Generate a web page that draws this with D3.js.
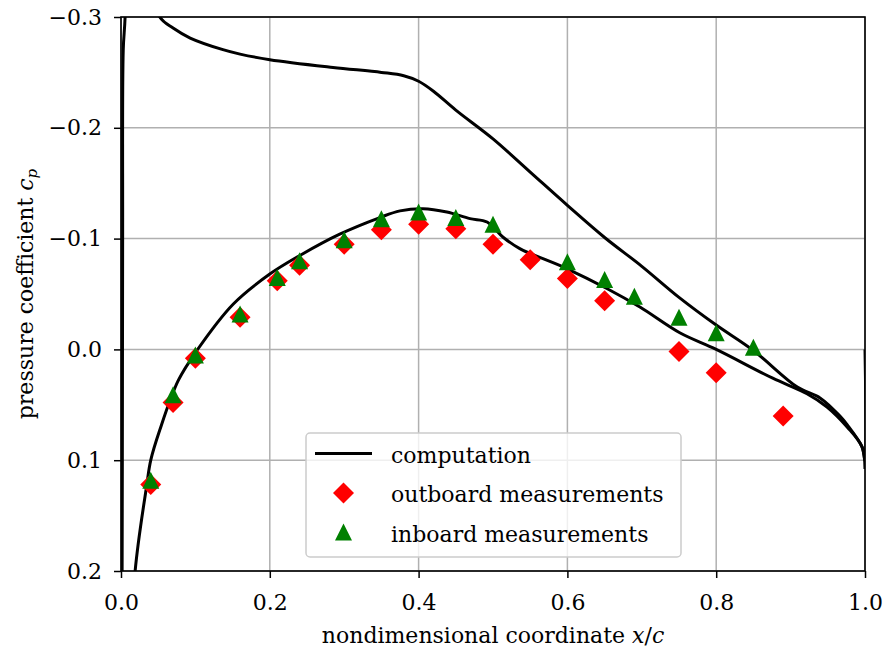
<!DOCTYPE html>
<html>
<head>
<meta charset="utf-8">
<script src="https://cdn.jsdelivr.net/npm/d3@7"></script>
<style>
  body { margin: 0; background: #fff; }
  text { font-family: "DejaVu Serif", serif; fill: #000; }
</style>
</head>
<body>
<svg id="chart" width="884" height="650"></svg>
<script>
// computed cp, upper surface (trailing edge -> leading edge)
const upperX = [1.0, 1.0, 0.996, 0.976, 0.966, 0.94, 0.909, 0.85, 0.8, 0.75, 0.7, 0.65, 0.6, 0.55,
  0.5, 0.45, 0.42, 0.40, 0.38, 0.35, 0.285, 0.2, 0.16, 0.137, 0.093, 0.07, 0.052, 0.03, 0.015, 0.009,
  0.0055, 0.003, 0.0022, 0.0018, 0.0012, 0.0];
const upperCp = [0.0, 0.1, 0.088, 0.068, 0.060, 0.044, 0.034, 0.001, -0.022, -0.047, -0.075, -0.101, -0.130, -0.160,
  -0.190, -0.216, -0.233, -0.242, -0.247, -0.250, -0.2545, -0.2615, -0.2665, -0.2705, -0.281, -0.290, -0.300, -0.35, -0.45, -0.45,
  -0.30, -0.27, -0.10, 0.10, 0.30, 1.0];

// computed cp, lower surface (leading edge -> trailing edge)
const lowerX = [0.0, 0.005, 0.01, 0.019, 0.0345, 0.04, 0.052, 0.077, 0.102, 0.151, 0.2, 0.241, 0.294, 0.348,
  0.375, 0.406, 0.438, 0.469, 0.492, 0.514, 0.536, 0.599, 0.653, 0.698, 0.751, 0.8, 0.876, 0.922, 0.949,
  0.976, 0.996, 1.0];
const lowerCp = [1.0, 0.45, 0.32, 0.2, 0.123, 0.1, 0.073, 0.028, 0.001, -0.041, -0.068, -0.085, -0.104, -0.119,
  -0.125, -0.127, -0.124, -0.118, -0.115, -0.101, -0.091, -0.073, -0.055, -0.038, -0.015, 0.0, 0.026, 0.040, 0.052,
  0.070, 0.088, 0.108];

// measurements
const outboardX = [0.04, 0.07, 0.10, 0.16, 0.21, 0.24, 0.30, 0.35, 0.40, 0.45, 0.50, 0.55, 0.60, 0.65, 0.75, 0.80, 0.89];
const outboardCp = [0.122, 0.048, 0.008, -0.029, -0.062, -0.076, -0.095, -0.108, -0.113, -0.109, -0.095, -0.081, -0.064, -0.044, 0.002, 0.021, 0.060];
const inboardX = [0.04, 0.07, 0.10, 0.16, 0.21, 0.24, 0.30, 0.35, 0.40, 0.45, 0.50, 0.60, 0.65, 0.69, 0.75, 0.80, 0.85];
const inboardCp = [0.118, 0.041, 0.005, -0.032, -0.065, -0.080, -0.099, -0.118, -0.124, -0.119, -0.113, -0.079, -0.063, -0.048, -0.029, -0.015, -0.002];

const xTickValues = [0, 0.2, 0.4, 0.6, 0.8, 1.0];
const yTickValues = [-0.3, -0.2, -0.1, 0.0, 0.1, 0.2];
const legendLabels = ["computation", "outboard measurements", "inboard measurements"];

const svg = d3.select("#chart");
const margin = { left: 121, right: 19, top: 17, bottom: 79 };
const W = 884, H = 650;

var x = d3.scaleLinear().domain([0, 1]).range([margin.left, W - margin.right]);
// cp axis is inverted: negative values on top
var y = d3.scaleLinear().domain([-0.3, 0.2]).range([margin.top, H - margin.bottom]);

var fmt = d3.format(".1f");

svg.append("defs").append("clipPath").attr("id", "plotClip")
  .append("rect")
  .attr("x", x(0)).attr("y", y(-0.3))
  .attr("width", x(1) - x(0)).attr("height", y(0.2) - y(-0.3));

// grid
var grid = svg.append("g").attr("stroke", "#b0b0b0").attr("stroke-width", 1.5);
grid.selectAll("line.gx").data(xTickValues).join("line")
  .attr("x1", d => x(d)).attr("x2", d => x(d))
  .attr("y1", y(-0.3)).attr("y2", y(0.2));
grid.selectAll("line.gy").data(yTickValues).join("line")
  .attr("y1", d => y(d)).attr("y2", d => y(d))
  .attr("x1", x(0)).attr("x2", x(1));

// computation curves
var line = d3.line().x(d => x(d[0])).y(d => y(d[1])).curve(d3.curveCatmullRom.alpha(0.5));
var curves = svg.append("g").attr("clip-path", "url(#plotClip)");
[[upperX, upperCp], [lowerX, lowerCp]].forEach(([xs, cps]) => {
  curves.append("path")
    .datum(xs.map((v, i) => [v, cps[i]]))
    .attr("fill", "none")
    .attr("stroke", "#000")
    .attr("stroke-width", 3)
    .attr("stroke-linejoin", "round")
    .attr("d", line);
});

// markers
var diamond = r => `M0,${-r}L${r},0L0,${r}L${-r},0Z`;
var triangle = r => `M0,${-r}L${r},${r}L${-r},${r}Z`;

svg.append("g").selectAll("path")
  .data(outboardX.map((v, i) => [v, outboardCp[i]]))
  .join("path")
  .attr("transform", d => `translate(${x(d[0])},${y(d[1])})`)
  .attr("d", diamond(10.5))
  .attr("fill", "#ff0000");

svg.append("g").selectAll("path")
  .data(inboardX.map((v, i) => [v, inboardCp[i]]))
  .join("path")
  .attr("transform", d => `translate(${x(d[0])},${y(d[1])})`)
  .attr("d", triangle(8.5))
  .attr("fill", "#008000");

// axes
var xAxis = svg.append("g")
  .attr("transform", `translate(0,${y(0.2)})`)
  .call(d3.axisBottom(x).tickValues(xTickValues).tickFormat(fmt).tickSize(7).tickPadding(16));
var yAxis = svg.append("g")
  .attr("transform", `translate(${x(0)},0)`)
  .call(d3.axisLeft(y).tickValues(yTickValues).tickFormat(fmt).tickSize(7).tickPadding(12));
[xAxis, yAxis].forEach(g => {
  g.select(".domain").remove();
  g.selectAll(".tick line").attr("stroke", "#000").attr("stroke-width", 1.5);
  g.selectAll(".tick text").attr("font-size", 22);
});

// frame
svg.append("rect")
  .attr("x", x(0)).attr("y", y(-0.3))
  .attr("width", x(1) - x(0)).attr("height", y(0.2) - y(-0.3))
  .attr("fill", "none").attr("stroke", "#000").attr("stroke-width", 1.6);

// axis labels
var xl = svg.append("text")
  .attr("x", (x(0) + x(1)) / 2).attr("y", 643)
  .attr("text-anchor", "middle").attr("font-size", 22);
xl.append("tspan").text("nondimensional coordinate ");
xl.append("tspan").attr("font-style", "italic").text("x");
xl.append("tspan").text("/");
xl.append("tspan").attr("font-style", "italic").text("c");

var yl = svg.append("text")
  .attr("transform", `translate(33,${(y(-0.3) + y(0.2)) / 2}) rotate(-90)`)
  .attr("text-anchor", "middle").attr("font-size", 22);
yl.append("tspan").text("pressure coefficient ");
yl.append("tspan").attr("font-style", "italic").text("c");
yl.append("tspan").attr("font-style", "italic").attr("font-size", 15).attr("dy", 4).text("p");

// legend
var legend = svg.append("g");
legend.append("rect")
  .attr("x", 306).attr("y", 433).attr("width", 375).attr("height", 124)
  .attr("rx", 4).attr("fill", "#fff").attr("fill-opacity", 0.8)
  .attr("stroke", "#cccccc").attr("stroke-width", 1.5);
var rowY = [453.5, 493, 532];
var textY = [463, 502, 541.5];
legend.append("line")
  .attr("x1", 315).attr("x2", 372).attr("y1", rowY[0]).attr("y2", rowY[0])
  .attr("stroke", "#000").attr("stroke-width", 3);
legend.append("path").attr("transform", `translate(343.5,${rowY[1]})`)
  .attr("d", diamond(10.5)).attr("fill", "#ff0000");
legend.append("path").attr("transform", `translate(343.5,${rowY[2]})`)
  .attr("d", triangle(8.5)).attr("fill", "#008000");
legend.selectAll("text.lab").data(legendLabels).join("text")
  .attr("class", "lab")
  .attr("x", 391).attr("y", (d, i) => textY[i])
  .attr("font-size", 22)
  .text(d => d);
</script>
</body>
</html>
